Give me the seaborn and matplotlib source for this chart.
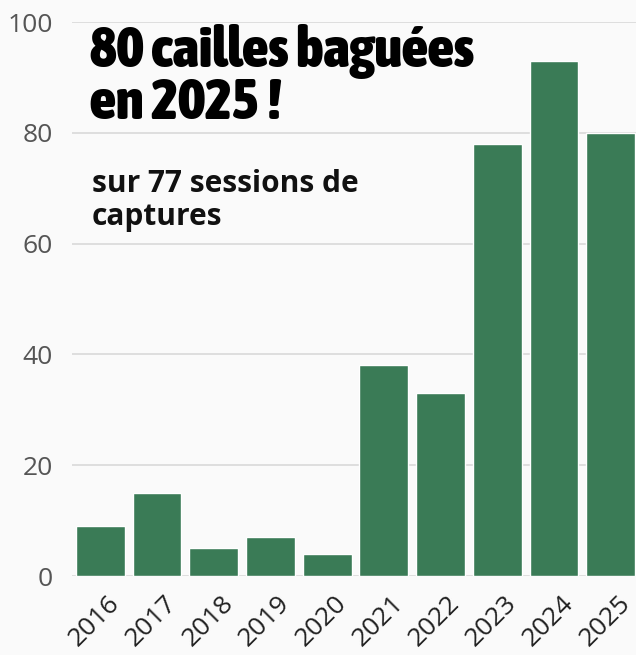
import matplotlib
matplotlib.use("Agg")
import matplotlib.pyplot as plt
from matplotlib import font_manager
from matplotlib.transforms import ScaledTranslation
import seaborn as sns
import pandas as pd

# Données : cailles baguées par année
years = ["2016", "2017", "2018", "2019", "2020", "2021", "2022", "2023", "2024", "2025"]
counts = [9, 15, 5, 7, 4, 38, 33, 78, 93, 80]
y_ticks = [0, 20, 40, 60, 80, 100]

title = "80 cailles baguées\nen 2025 !"
subtitle = "sur 77 sessions de\ncaptures"

df = pd.DataFrame({"year": years, "count": counts})

# police étroite la plus grasse disponible pour le titre
narrow = None
best_w = 0
for f in font_manager.fontManager.ttflist:
    cond = ("Narrow" in f.name or "Condensed" in f.fname or "Narrow" in f.fname
            or f.stretch in ("condensed", "semi-condensed", "extra-condensed"))
    w = f.weight if isinstance(f.weight, int) else (700 if f.weight == "bold" else 400)
    if cond and w >= 700 and f.style == "normal" and w > best_w:
        best_w = w
        narrow = f.fname

sns.set_style("white")
plt.rcParams["font.family"] = ["Open Sans", "DejaVu Sans"]

fig = plt.figure(figsize=(6.36, 6.55), dpi=100)
fig.patch.set_facecolor("#fafafa")
ax = fig.add_axes([72 / 636, 79 / 655, 567 / 636, 554 / 655])
ax.set_facecolor("#fafafa")

sns.barplot(data=df, x="year", y="count", color="#3a7b56", saturation=1,
            width=0.86, ax=ax, zorder=3)

ax.set_ylim(0, 100)
ax.set_yticks(y_ticks)
ax.set_yticklabels([str(t) for t in y_ticks])
ax.grid(axis="y", color="#d9d9d9", linewidth=1.2, zorder=0)
ax.set_xlabel("")
ax.set_ylabel("")
for s in ax.spines.values():
    s.set_visible(False)
ax.tick_params(axis="y", length=0, pad=14, labelsize=19, labelcolor="#555555")
ax.tick_params(axis="x", length=0, pad=11, labelsize=19, labelcolor="#222222")
shift = ScaledTranslation(7 / 100, 0, fig.dpi_scale_trans)
for lab in ax.get_xticklabels():
    lab.set_rotation(45)
    lab.set_ha("right")
    lab.set_rotation_mode("anchor")
    lab.set_transform(lab.get_transform() + shift)

if narrow:
    tprops = dict(fontproperties=font_manager.FontProperties(fname=narrow, size=41))
else:
    tprops = dict(fontsize=30, fontweight="heavy", family=["DejaVu Sans"])
fig.text(90 / 636, 1 - 24 / 655, title, ha="left", va="top",
         color="black", linespacing=0.92, **tprops)
fig.text(92 / 636, 1 - 169 / 655, subtitle, ha="left", va="top",
         fontsize=21.5, fontweight="bold", color="#111111", linespacing=1.15)

fig.savefig("out.png", dpi=100, facecolor=fig.get_facecolor())
